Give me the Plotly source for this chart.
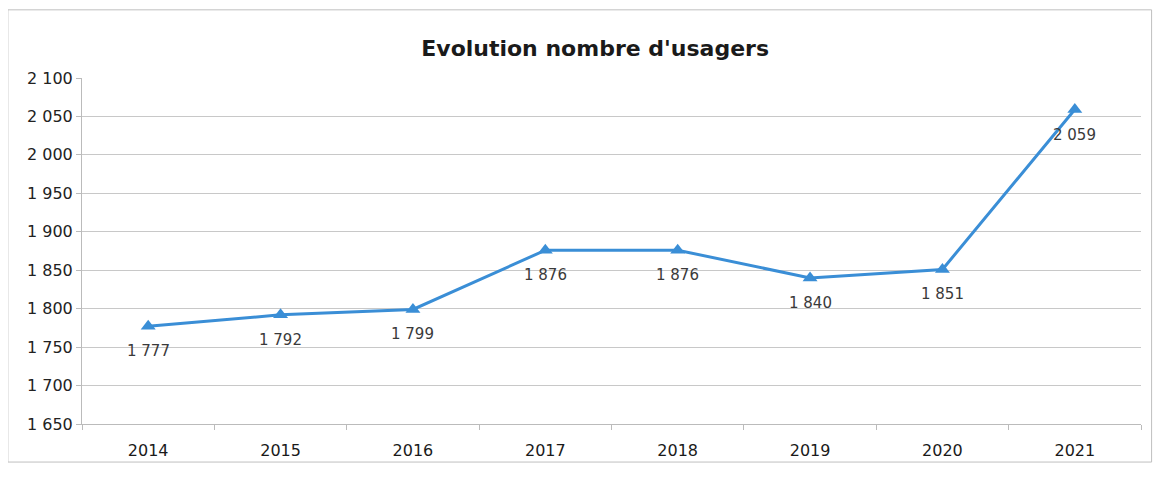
import plotly.graph_objects as go

years = ["2014", "2015", "2016", "2017", "2018", "2019", "2020", "2021"]
usagers = [1777, 1792, 1799, 1876, 1876, 1840, 1851, 2059]
label_text = ["1 777", "1 792", "1 799", "1 876", "1 876", "1 840", "1 851", "2 059"]
y_ticks = [1650, 1700, 1750, 1800, 1850, 1900, 1950, 2000, 2050, 2100]
y_tick_text = ["1 650", "1 700", "1 750", "1 800", "1 850", "1 900", "1 950", "2 000", "2 050", "2 100"]

font_family = "DejaVu Sans, Verdana, sans-serif"
blue = "#3A8ED6"

fig = go.Figure()
fig.add_trace(go.Scatter(
    x=years, y=usagers,
    mode="lines+markers",
    line=dict(color=blue, width=3),
    marker=dict(symbol="triangle-up", size=13, color=blue),
    cliponaxis=False,
    showlegend=False,
))

for i, (val, txt) in enumerate(zip(usagers, label_text)):
    fig.add_annotation(x=i, y=val, xref="x", yref="y", text=txt, showarrow=False,
                       yshift=-25, xanchor="center", yanchor="middle",
                       font=dict(family=font_family, size=15, color="#3a3a3a"))

fig.update_layout(
    width=1165, height=479,
    paper_bgcolor="white", plot_bgcolor="white",
    margin=dict(l=74, r=32, t=70, b=63),
    title=dict(text="<b>Evolution nombre d'usagers</b>", x=0.504, xanchor="center",
               y=0.916, yanchor="middle",
               font=dict(family=font_family, size=22, color="#1a1a1a")),
    font=dict(family=font_family, size=15, color="#333333"),
)
fig.update_xaxes(
    type="category", categoryorder="array", categoryarray=years,
    range=[-0.5, len(years) - 0.5],
    tickson="boundaries", ticks="outside", ticklen=5,
    tickcolor="#BBBBBB", showline=True, linecolor="#BBBBBB",
    showgrid=False, tickfont=dict(family=font_family, size=16, color="#1a1a1a"),
    tickangle=0, ticklabelstandoff=12,
)
fig.update_yaxes(
    range=[1650, 2100], tickvals=y_ticks, ticktext=y_tick_text,
    showgrid=True, gridcolor="#C8C8C8", gridwidth=1,
    showline=True, linecolor="#BBBBBB", ticks="outside", ticklen=5, tickcolor="#BBBBBB",
    tickfont=dict(family=font_family, size=16, color="#222222"), zeroline=False,
)
fig.add_shape(type="rect", xref="paper", yref="paper",
              x0=-0.070, x1=1.010, y0=-0.110, y1=1.197,
              line=dict(color="#BFBFBF", width=1))

fig.write_html("out.html")
